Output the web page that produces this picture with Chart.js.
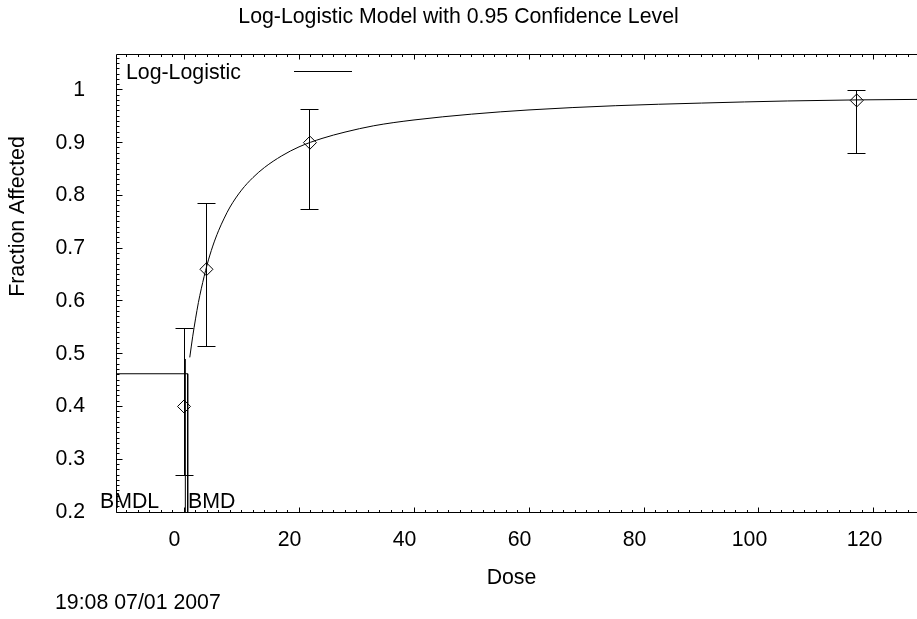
<!DOCTYPE html>
<html><head><meta charset="utf-8">
<script src="https://cdn.jsdelivr.net/npm/chart.js@4.4.0/dist/chart.umd.min.js"></script>
<style>html,body{margin:0;padding:0;background:#fff;}canvas{display:block;}</style>
</head><body>
<canvas id="c" width="917" height="619"></canvas>
<script>
// ---- data ----
const doses    = [0, 3.9, 21.9, 117];
const observed = [0.40, 0.66, 0.90, 0.98];
const lowerCI  = [0.270, 0.513, 0.774, 0.879];
const upperCI  = [0.548, 0.784, 0.962, 0.998];

const curveDose = [1.0, 1.5, 2, 2.5, 3, 4, 5, 6, 7, 8, 10, 12, 14, 17, 20, 24, 28, 33, 40, 50, 60, 75, 90, 105, 117, 128];
const curveFrac = [0.493, 0.532, 0.566, 0.597, 0.623, 0.668, 0.704, 0.733, 0.757, 0.778, 0.810, 0.834, 0.853, 0.875, 0.892, 0.908, 0.920, 0.932, 0.943, 0.954, 0.962, 0.970, 0.975, 0.979, 0.981, 0.982];

const bmdLineX  = [-11.83, 0.64, 0.64];
const bmdLineY  = [0.462, 0.462, 0.2];
const bmdlLineX = [0.23, 0.23];
const bmdlLineY = [0.2, 0.49];

const xTickValues = [0, 20, 40, 60, 80, 100, 120];
const xTickLabels = ['0', '20', '40', '60', '80', '100', '120'];
const yTickValues = [0.2, 0.3, 0.4, 0.5, 0.6, 0.7, 0.8, 0.9, 1.0];
const yTickLabels = ['0.2', '0.3', '0.4', '0.5', '0.6', '0.7', '0.8', '0.9', '1'];
const xRange = [-11.83, 127.48];
const yRange = [0.2, 1.068];
const xMinorStep = 2;
const yMinorStep = 0.01;

const titleText = 'Log-Logistic Model with 0.95 Confidence Level';
const xTitle = 'Dose';
const yTitle = 'Fraction Affected';
const legendText = 'Log-Logistic';
const stampText = '19:08 07/01 2007';

const FONT = "'Liberation Sans', Arial, sans-serif";
const FS = 21.3;

const pts = (xs, ys) => xs.map((x, i) => ({x, y: ys[i]}));

const decor = {
  id: 'decor',
  afterDraw(chart) {
    const {ctx, chartArea: a, scales: {x, y}} = chart;
    const h = v => Math.floor(v) + 0.5;
    ctx.save();
    ctx.strokeStyle = '#000';
    ctx.lineWidth = 1;
    const L = h(a.left), B = h(a.bottom), T = h(a.top), R = a.right;
    ctx.beginPath();
    ctx.moveTo(L, T); ctx.lineTo(R, T);
    ctx.moveTo(L, T); ctx.lineTo(L, B);
    ctx.moveTo(L, B); ctx.lineTo(R, B);
    // y ticks
    for (let k = 0; ; k++) {
      const v = yRange[0] + k * yMinorStep;
      if (v > yRange[1]) break;
      const py = h(y.getPixelForValue(v));
      const major = yTickValues.some(t => Math.abs(t - v) < 1e-6);
      ctx.moveTo(L, py); ctx.lineTo(L + (major ? 6 : 3), py);
    }
    // x ticks bottom + top
    for (let v = Math.ceil(xRange[0] / xMinorStep) * xMinorStep; v <= xRange[1]; v += xMinorStep) {
      const px = h(x.getPixelForValue(v));
      const major = xTickValues.includes(v);
      const len = major ? 5 : 2.5;
      ctx.moveTo(px, B); ctx.lineTo(px, B - len);
      ctx.moveTo(px, T); ctx.lineTo(px, T + len);
    }
    ctx.stroke();

    // error bars
    ctx.beginPath();
    doses.forEach((d, i) => {
      const px = h(x.getPixelForValue(d));
      const pt = h(y.getPixelForValue(upperCI[i]));
      const pb = h(y.getPixelForValue(lowerCI[i]));
      ctx.moveTo(px, pt); ctx.lineTo(px, pb);
      ctx.moveTo(px - 9, pt); ctx.lineTo(px + 9, pt);
      ctx.moveTo(px - 9, pb); ctx.lineTo(px + 9, pb);
    });
    ctx.stroke();

    // legend
    ctx.beginPath();
    ctx.moveTo(294, 71.5); ctx.lineTo(352, 71.5);
    ctx.stroke();

    ctx.fillStyle = '#000';
    ctx.font = FS + 'px ' + FONT;
    ctx.textBaseline = 'alphabetic';
    ctx.textAlign = 'left';
    ctx.fillText(legendText, 126, 79);
    ctx.fillText('BMDL', 100, 508);
    ctx.fillText('BMD', 188, 508);

    ctx.textBaseline = 'middle';
    ctx.fillText(stampText, 55, 603);
    ctx.textAlign = 'center';
    ctx.fillText(xTitle, 511.5, 578);
    ctx.save();
    ctx.translate(18, 216.5);
    ctx.rotate(-Math.PI / 2);
    ctx.fillText(yTitle, 0, 0);
    ctx.restore();
    ctx.restore();
  }
};

Chart.defaults.font.family = FONT;
Chart.defaults.font.size = FS;
Chart.defaults.color = '#000';

new Chart(document.getElementById('c'), {
  type: 'line',
  data: {
    datasets: [
      { data: pts(curveDose, curveFrac), borderColor: '#000', borderWidth: 1, pointRadius: 0, cubicInterpolationMode: 'monotone', fill: false },
      { data: pts(doses, observed), showLine: false, pointStyle: 'rectRot', pointRadius: 6.5, borderColor: '#000', borderWidth: 1, backgroundColor: 'rgba(0,0,0,0)' },
      { data: pts(bmdLineX, bmdLineY), borderColor: '#000', borderWidth: 1, pointRadius: 0, tension: 0, fill: false },
      { data: pts(bmdlLineX, bmdlLineY), borderColor: '#000', borderWidth: 1, pointRadius: 0, tension: 0, fill: false }
    ]
  },
  options: {
    responsive: false,
    animation: false,
    devicePixelRatio: 1,
    layout: { padding: 0, autoPadding: false },
    plugins: {
      legend: { display: false },
      tooltip: { enabled: false },
      title: { display: true, text: titleText, font: { size: FS, weight: 'normal' }, color: '#000', padding: { top: 4, bottom: 24.44 } }
    },
    scales: {
      x: {
        type: 'linear', min: xRange[0], max: xRange[1],
        grid: { display: false, drawTicks: false }, border: { display: false },
        ticks: { padding: 15, labelOffset: -9.5, maxRotation: 0, autoSkip: false, includeBounds: false,
                 callback: v => xTickLabels[xTickValues.indexOf(v)] },
        afterBuildTicks: s => { s.ticks = xTickValues.map(v => ({value: v})); },
        afterFit: s => { s.height = 107; s.paddingLeft = 0; s.paddingRight = 0; }
      },
      y: {
        type: 'linear', min: yRange[0], max: yRange[1],
        grid: { display: false, drawTicks: false }, border: { display: false },
        ticks: { padding: 31, autoSkip: false, includeBounds: false,
                 callback: v => yTickLabels[yTickValues.indexOf(v)] },
        afterBuildTicks: s => { s.ticks = yTickValues.map(v => ({value: v})); },
        afterFit: s => { s.width = 116; s.paddingTop = 0; s.paddingBottom = 0; }
      }
    }
  },
  plugins: [decor]
});
</script>
</body></html>
